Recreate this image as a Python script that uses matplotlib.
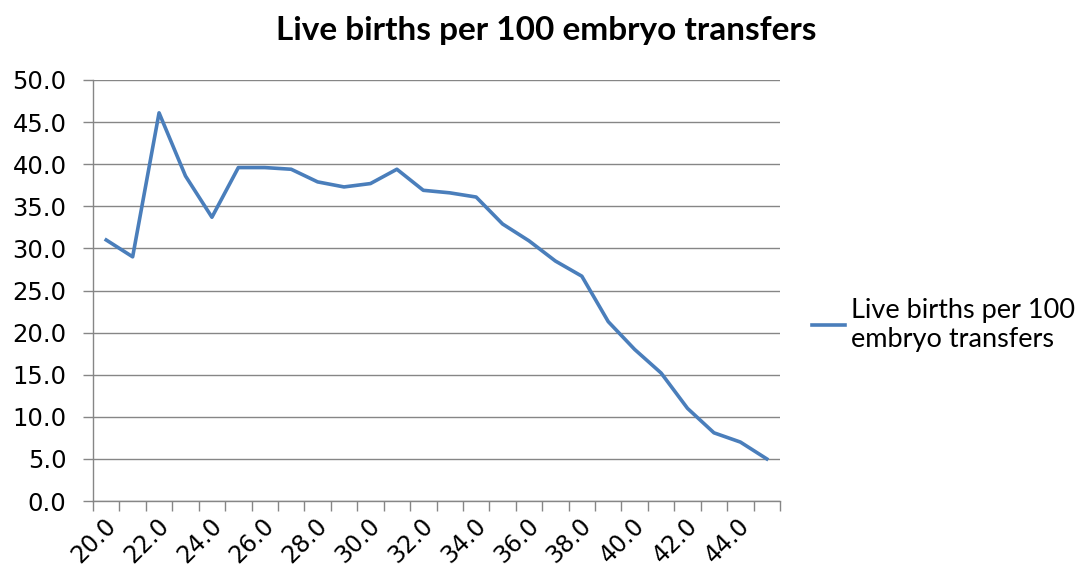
import matplotlib
matplotlib.use("Agg")
import matplotlib.pyplot as plt
from matplotlib.transforms import ScaledTranslation

# maternal age (categories) and live births per 100 embryo transfers
ages = [20.0, 21.0, 22.0, 23.0, 24.0, 25.0, 26.0, 27.0, 28.0, 29.0, 30.0, 31.0, 32.0,
        33.0, 34.0, 35.0, 36.0, 37.0, 38.0, 39.0, 40.0, 41.0, 42.0, 43.0, 44.0, 45.0]
births = [31.0, 29.0, 46.1, 38.6, 33.7, 39.6, 39.6, 39.4, 37.9, 37.3, 37.7, 39.4, 36.9,
          36.6, 36.1, 32.9, 30.9, 28.5, 26.7, 21.3, 18.0, 15.2, 11.0, 8.1, 7.0, 5.0]
series_name = "Live births per 100\nembryo transfers"
title = "Live births per 100 embryo transfers"
yticks = [0, 5, 10, 15, 20, 25, 30, 35, 40, 45, 50]

fig = plt.figure(figsize=(10.79, 5.78), dpi=100)
ax = fig.add_axes([0.0862, 0.1332, 0.6367, 0.7284])

pos = list(range(len(ages)))
line, = ax.plot(pos, births, color="#4A7EBB", lw=2.6, solid_joinstyle="round")

ax.set_xlim(-0.5, len(ages) - 0.5)
ax.set_ylim(0, 50)

grid_c = "#868686"
ax.set_yticks(yticks)
ax.set_yticklabels([f"{v:.1f}" for v in yticks])
ax.yaxis.grid(True, color=grid_c, lw=1.0)
ax.set_axisbelow(True)

# tick marks between categories, labels on every other category
ax.set_xticks([p - 0.5 for p in pos] + [len(ages) - 0.5])
ax.set_xticklabels([])
ax.set_xticks(pos[::2], [f"{a:.1f}" for a in ages[::2]], minor=True)
ax.tick_params(axis="x", which="minor", length=0, pad=15, labelsize=17)
shift = ScaledTranslation(6 / 100, 0, fig.dpi_scale_trans)
for lab in ax.get_xticklabels(minor=True):
    lab.set_rotation(45)
    lab.set_ha("right")
    lab.set_va("center")
    lab.set_rotation_mode("anchor")
    lab.set_transform(lab.get_transform() + shift)

ax.tick_params(axis="x", which="major", length=7, color=grid_c, width=1.0)
ax.tick_params(axis="y", length=7, color=grid_c, width=1.0, pad=12, labelsize=17.5)

for s in ["top", "right"]:
    ax.spines[s].set_visible(False)
for s in ["left", "bottom"]:
    ax.spines[s].set_color(grid_c)
    ax.spines[s].set_linewidth(1.0)

fig.text(0.506, 0.948, title, ha="center", va="center", fontsize=24,
         fontweight="bold", family="Lato")

fig.legend([line], [series_name], loc="center left", bbox_to_anchor=(0.7526, 0.438),
           frameon=False, prop={"family": "Lato", "size": 19.5}, handlelength=1.2,
           handletextpad=0.25, borderpad=0, borderaxespad=0, labelspacing=0.2)

fig.savefig("out.png", dpi=100, facecolor="white")
